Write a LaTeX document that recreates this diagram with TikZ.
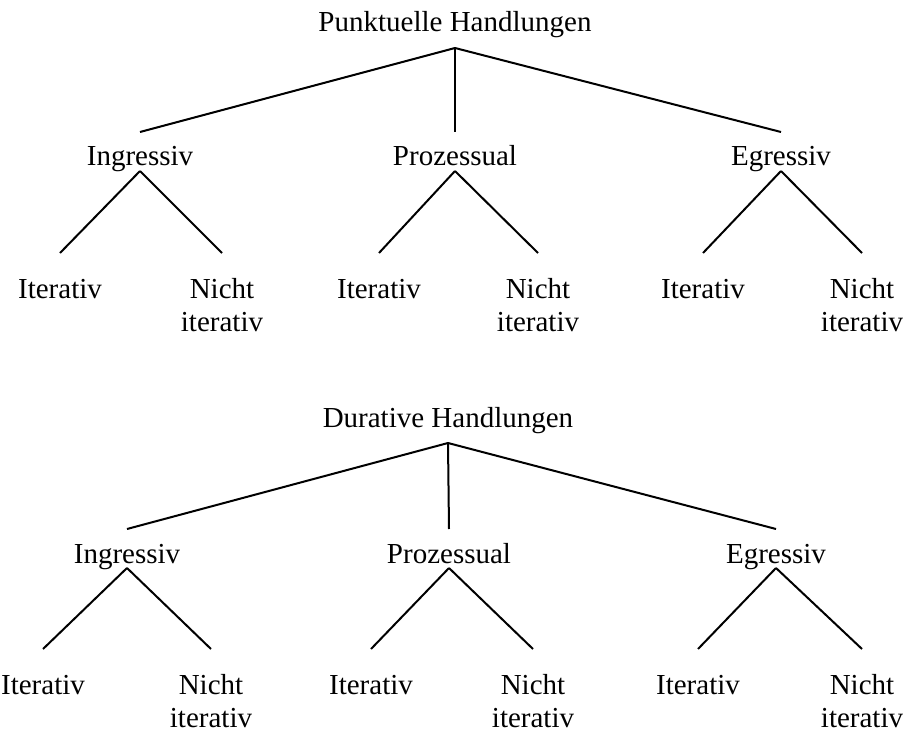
\documentclass[tikz,border=0pt]{standalone}
\usepackage{fontspec}
\setmainfont{Liberation Serif}
\tikzset{kind/.style={inner sep=0pt,anchor=base,font=\fontsize{14.5}{16.5}\selectfont}}
\tikzset{top/.style={kind,text depth=7.5pt}}
\tikzset{phase/.style={kind,text height=16.5pt,text depth=2pt}}
\tikzset{leaf/.style={kind,text height=22pt}}
\tikzset{leaftwo/.style={kind,text height=38.5pt,align=center}}
\begin{document}
\begin{tikzpicture}[x=0.5pt,y=-0.5pt,line width=1pt]
    \useasboundingbox (0,0) rectangle (905,733);
    % punktuelle Handlungen
    \node [top] (p) at (455,32) {Punktuelle Handlungen};
    \node [phase] (pi) at (140,166) {Ingressiv};
    \node [phase] (pp) at (455,166) {Prozessual};
    \node [phase] (pe) at (781,166) {Egressiv};
    \node [leaf] (pi1) at (60,298) {Iterativ};
    \node [leaftwo] (pi2) at (222,331) {Nicht\\iterativ};
    \node [leaf] (pp1) at (379,298) {Iterativ};
    \node [leaftwo] (pp2) at (538,331) {Nicht\\iterativ};
    \node [leaf] (pe1) at (703,298) {Iterativ};
    \node [leaftwo] (pe2) at (862,331) {Nicht\\iterativ};
    % durative Handlungen
    \node [top] (d) at (448,427) {Durative Handlungen};
    \node [phase] (di) at (127,563) {Ingressiv};
    \node [phase] (dp) at (449,563) {Prozessual};
    \node [phase] (de) at (776,563) {Egressiv};
    \node [leaf] (di1) at (43,694) {Iterativ};
    \node [leaftwo] (di2) at (211,727) {Nicht\\iterativ};
    \node [leaf] (dp1) at (371,694) {Iterativ};
    \node [leaftwo] (dp2) at (533,727) {Nicht\\iterativ};
    \node [leaf] (de1) at (698,694) {Iterativ};
    \node [leaftwo] (de2) at (862,727) {Nicht\\iterativ};
    \foreach \a/\b in {p/pi,p/pp,p/pe,pi/pi1,pi/pi2,pp/pp1,pp/pp2,pe/pe1,pe/pe2,
                       d/di,d/dp,d/de,di/di1,di/di2,dp/dp1,dp/dp2,de/de1,de/de2}
        \draw (\a.south) -- (\b.north);
\end{tikzpicture}
\end{document}
